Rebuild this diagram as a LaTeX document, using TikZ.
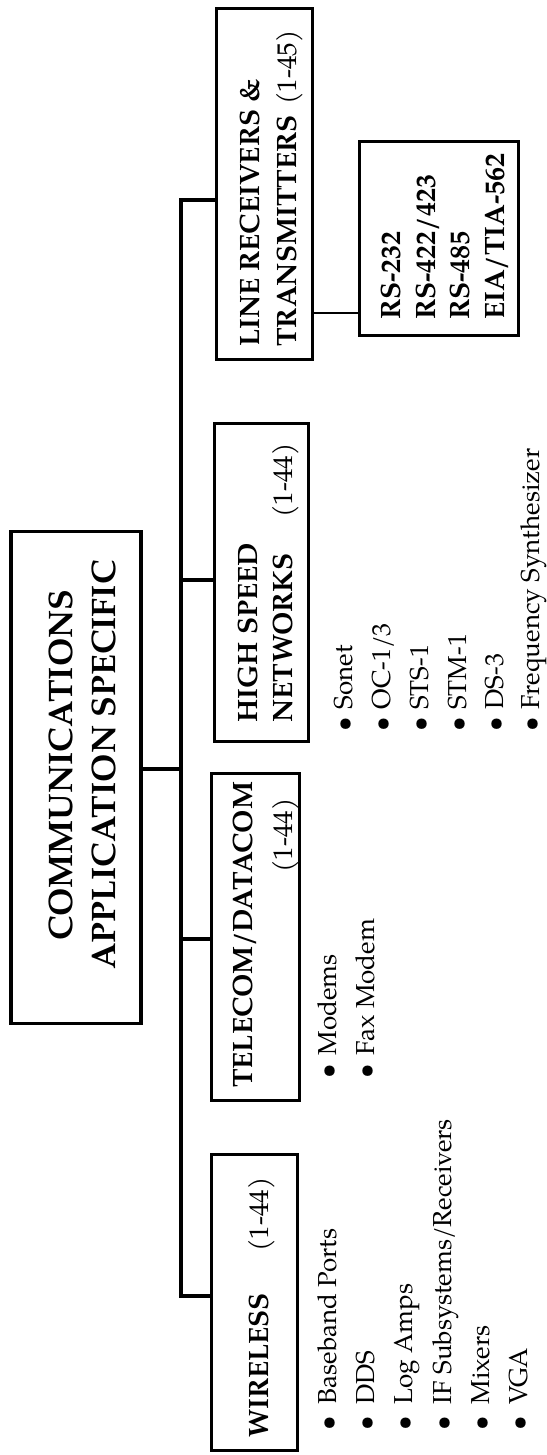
\documentclass[tikz,border=0pt]{standalone}
\usepackage{fontspec}
\setmainfont{texgyrepagella}[Extension=.otf, UprightFont=*-regular, BoldFont=*-bold, ItalicFont=*-italic, BoldItalicFont=*-bolditalic]
\begin{document}
\begin{tikzpicture}[x=1pt,y=-1pt,
  frame/.style={draw, line width=3.5pt, inner sep=0pt},
  thinframe/.style={draw, line width=3pt, inner sep=0pt},
  link/.style={line width=3.5pt, line join=miter},
  thinlink/.style={line width=2.5pt},
  vtext/.style={rotate=90, inner sep=0pt},
  head/.style={vtext, anchor=base west, font=\fontsize{28}{33}\selectfont\bfseries},
  num/.style={vtext, anchor=base east, font=\fontsize{27}{32}\selectfont},
  title/.style={vtext, anchor=base, font=\fontsize{34}{40}\selectfont\bfseries},
  std/.style={vtext, anchor=base west, font=\fontsize{28}{32}\selectfont\bfseries},
  item/.style={vtext, anchor=base west, font=\fontsize{26}{30}\selectfont}]
\useasboundingbox (0,0) rectangle (546,1455);

% boxes
\node[frame, minimum width=130pt, minimum height=492pt] (main) at (76,777.5) {};
\node[frame, minimum width=96pt,  minimum height=351pt] (lr)   at (264.5,184) {};
\node[thinframe, minimum width=159pt, minimum height=194pt] (rs) at (439,238.5) {};
\node[frame, minimum width=94pt,  minimum height=318pt] (hs)   at (261.5,582.5) {};
\node[frame, minimum width=88pt,  minimum height=327pt] (tc)   at (255.5,937) {};
\node[frame, minimum width=86pt,  minimum height=296pt] (wl)   at (254.5,1302.5) {};

% trunk joints
\coordinate (jlr)   at (181,200);
\coordinate (jhs)   at (181,580);
\coordinate (jmain) at (181,769);
\coordinate (jtc)   at (181,939);
\coordinate (jwl)   at (181,1296);

% connectors
\draw[link] (lr.west |- jlr) -- (jlr) -- (jwl) -- (wl.west |- jwl);
\draw[link] (hs.west |- jhs) -- (jhs);
\draw[link] (main.east |- jmain) -- (jmain);
\draw[link] (tc.west |- jtc) -- (jtc);
\draw[thinlink] (lr.east |- 0,313) -- (rs.west |- 0,313);

% main title
\node[title] (t1) at (72,765) {COMMUNICATIONS};
\node[title] (t2) at (115,765) {APPLICATION SPECIFIC};

% line receivers & transmitters
\node[head] (lr1) at (259,347) {LINE RECEIVERS \&};
\node[head] (lr2) at (296,347) {TRANSMITTERS};
\node[num]  (lr3) at (296,30)  {(1-45)};

% interface standards
\node[std] (rs1) at (400,320) {RS-232};
\node[std] (rs2) at (435,320) {RS-422/423};
\node[std] (rs3) at (469,320) {RS-485};
\node[std] (rs4) at (504,320) {EIA/TIA-562};

% high speed networks
\node[head] (hs1) at (257,723) {HIGH SPEED};
\node[head] (hs2) at (292,723) {NETWORKS};
\node[num]  (hs3) at (292,443) {(1-44)};

% telecom / datacom
\node[head] (tc1) at (252,1088) {TELECOM/DATACOM};
\node[num]  (tc2) at (292,798)  {(1-44)};

% wireless
\node[head] (wl1) at (268,1438) {WIRELESS};
\node[num]  (wl2) at (268,1177) {(1-44)};

% high speed network items
\node[item] (h1) at (352,732) {\textbullet\hspace{8pt}Sonet};
\node[item] (h2) at (390,732) {\textbullet\hspace{8pt}OC-1/3};
\node[item] (h3) at (428,732) {\textbullet\hspace{8pt}STS-1};
\node[item] (h4) at (466,732) {\textbullet\hspace{8pt}STM-1};
\node[item] (h5) at (503,732) {\textbullet\hspace{8pt}DS-3};
\node[item] (h6) at (539,732) {\textbullet\hspace{8pt}Frequency Synthesizer};

% telecom items
\node[item] (c1) at (336,1079) {\textbullet\hspace{9pt}Modems};
\node[item] (c2) at (374,1079) {\textbullet\hspace{9pt}Fax Modem};

% wireless items
\node[item] (w1) at (336,1431) {\textbullet\hspace{12pt}Baseband Ports};
\node[item] (w2) at (374,1431) {\textbullet\hspace{12pt}DDS};
\node[item] (w3) at (412,1431) {\textbullet\hspace{12pt}Log Amps};
\node[item] (w4) at (451,1431) {\textbullet\hspace{12pt}IF Subsystems/Receivers};
\node[item] (w5) at (489,1431) {\textbullet\hspace{12pt}Mixers};
\node[item] (w6) at (527,1431) {\textbullet\hspace{12pt}VGA};
\end{tikzpicture}
\end{document}
